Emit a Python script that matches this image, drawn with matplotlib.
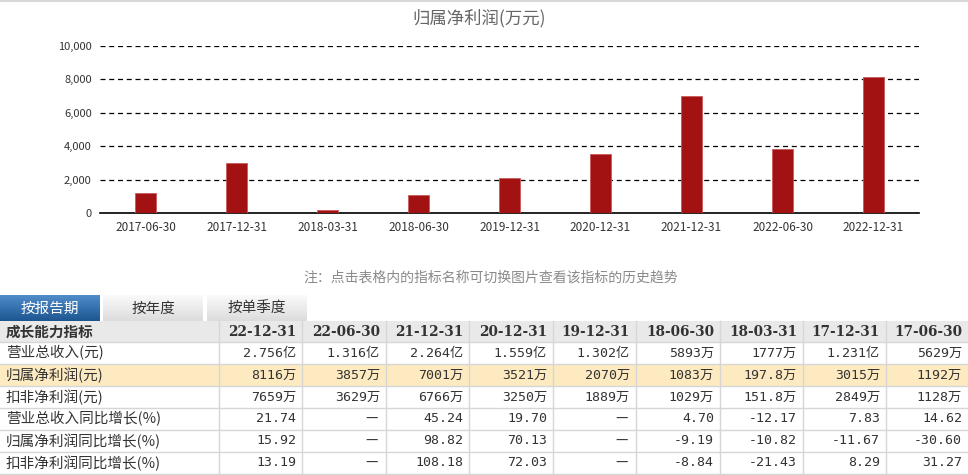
import matplotlib
matplotlib.use("Agg")
import matplotlib.pyplot as plt
import numpy as np

plt.rcParams['font.family'] = ['Noto Sans CJK SC', 'DejaVu Sans']

# chart data (万元)
periods = ['2017-06-30', '2017-12-31', '2018-03-31', '2018-06-30', '2019-12-31',
           '2020-12-31', '2021-12-31', '2022-06-30', '2022-12-31']
net_profit = [1192, 3015, 197.8, 1083, 2070, 3521, 7001, 3857, 8116]
y_ticks = [0, 2000, 4000, 6000, 8000, 10000]

# table data
tabs = ['按报告期', '按年度', '按单季度']
header_label = '成长能力指标'
col_dates = ['22-12-31', '22-06-30', '21-12-31', '20-12-31', '19-12-31',
             '18-06-30', '18-03-31', '17-12-31', '17-06-30']
row_names = ['营业总收入(元)', '归属净利润(元)', '扣非净利润(元)',
             '营业总收入同比增长(%)', '归属净利润同比增长(%)', '扣非净利润同比增长(%)']
revenue = ['2.756亿', '1.316亿', '2.264亿', '1.559亿', '1.302亿', '5893万', '1777万', '1.231亿', '5629万']
profit = ['8116万', '3857万', '7001万', '3521万', '2070万', '1083万', '197.8万', '3015万', '1192万']
profit_ex = ['7659万', '3629万', '6766万', '3250万', '1889万', '1029万', '151.8万', '2849万', '1128万']
revenue_yoy = ['21.74', '—', '45.24', '19.70', '—', '4.70', '-12.17', '7.83', '14.62']
profit_yoy = ['15.92', '—', '98.82', '70.13', '—', '-9.19', '-10.82', '-11.67', '-30.60']
profit_ex_yoy = ['13.19', '—', '108.18', '72.03', '—', '-8.84', '-21.43', '8.29', '31.27']
rows = [revenue, profit, profit_ex, revenue_yoy, profit_yoy, profit_ex_yoy]
note = '注：点击表格内的指标名称可切换图片查看该指标的历史趋势'

W, H = 968, 475
fig = plt.figure(figsize=(W / 100, H / 100), dpi=100)

mono = ['DejaVu Sans Mono', 'Noto Sans CJK SC']

# ---- background / table layer in pixel coordinates
bg = fig.add_axes([0, 0, 1, 1])
bg.set_xlim(0, W)
bg.set_ylim(H, 0)
bg.axis('off')

# top border line
bg.plot([0, W], [1, 1], color='#d8d8d8', lw=1.5)

bg.text(491, 277, note, ha='center', va='center', fontsize=10, color='#8a8a8a')

# tabs
tab_x = [0, 103, 207]
tab_w = 100
grad = np.linspace(0, 1, 50).reshape(-1, 1)
for i, (tx, label) in enumerate(zip(tab_x, tabs)):
    if i == 0:
        cmap = matplotlib.colors.LinearSegmentedColormap.from_list('b', ['#4f8cc9', '#1d5691'])
    else:
        cmap = matplotlib.colors.LinearSegmentedColormap.from_list('g', ['#fafafa', '#dcdcdc'])
    bg.imshow(grad, cmap=cmap, extent=[tx, tx + tab_w, 321, 295], aspect='auto', zorder=1)
    bg.text(tx + tab_w / 2, 309, label, ha='center', va='center', fontsize=10.5,
            color='white' if i == 0 else '#333333', zorder=3)

# table geometry
col_edges = [0, 219, 302, 386, 469, 553, 636, 720, 803, 886, 968]
row_edges = [321, 342, 364, 386, 408, 430, 452, 474]

# header bg
bg.add_patch(plt.Rectangle((0, row_edges[0]), W, row_edges[1] - row_edges[0],
                           facecolor='#e9e9e9', edgecolor='none', zorder=1))
# highlighted row
bg.add_patch(plt.Rectangle((0, row_edges[2]), W, row_edges[3] - row_edges[2],
                           facecolor='#fdeac0', edgecolor='none', zorder=1))

for y in row_edges[1:]:
    bg.plot([0, W], [y, y], color='#d6d6d6', lw=1, zorder=2)
for x in col_edges[1:-1]:
    bg.plot([x, x], [row_edges[0], row_edges[-1]], color='#d6d6d6', lw=1, zorder=2)

def row_mid(r):
    return (row_edges[r] + row_edges[r + 1]) / 2

bg.text(6, row_mid(0), header_label, ha='left', va='center', fontsize=10.5,
        fontweight='bold', color='#333333', zorder=3)
for j, d in enumerate(col_dates):
    bg.text(col_edges[j + 2] - 6, row_mid(0), d, ha='right', va='center', fontsize=9.8,
            fontweight='bold', color='#333333', family=['DejaVu Serif'], zorder=3)

for i, (name, vals) in enumerate(zip(row_names, rows)):
    ym = row_mid(i + 1)
    bg.text(6, ym, name, ha='left', va='center', fontsize=10.5, color='#333333', zorder=3)
    for j, v in enumerate(vals):
        if v == '—':
            # wide dash for empty cells
            bg.text(col_edges[j + 2] - 8, ym, v, ha='right', va='center', fontsize=10,
                    color='#333333', zorder=3)
        else:
            bg.text(col_edges[j + 2] - 6, ym, v, ha='right', va='center', fontsize=9.5,
                    color='#333333', family=mono, zorder=3)

# ---- bar chart
ax = fig.add_axes([100 / W, (H - 213) / H, 819 / W, 167 / H])
x = np.arange(len(periods))
ax.bar(x, net_profit, width=0.22, color='#a31212', edgecolor='#c85a5a', linewidth=0.6, zorder=3)
ax.set_xlim(-0.5, len(periods) - 0.5)
ax.set_ylim(0, 10000)
ax.set_yticks(y_ticks)
ax.set_yticklabels([f'{v:,}' for v in y_ticks], fontsize=8, color='#333333')
ax.set_xticks(x)
ax.set_xticklabels(periods, fontsize=8.5, color='#333333')
ax.tick_params(length=0, pad=6)
ax.grid(axis='y', color='black', linestyle=(0, (4, 3)), linewidth=0.9, zorder=1)
for s in ['left', 'right', 'top']:
    ax.spines[s].set_visible(False)
ax.spines['bottom'].set_color('black')
ax.spines['bottom'].set_linewidth(1.2)
ax.patch.set_alpha(0)

fig.text(479 / W, 1 - 18 / H, '归属净利润(万元)', ha='center', va='center', fontsize=12.5, color='#666666')

fig.savefig('out.png', dpi=100)
